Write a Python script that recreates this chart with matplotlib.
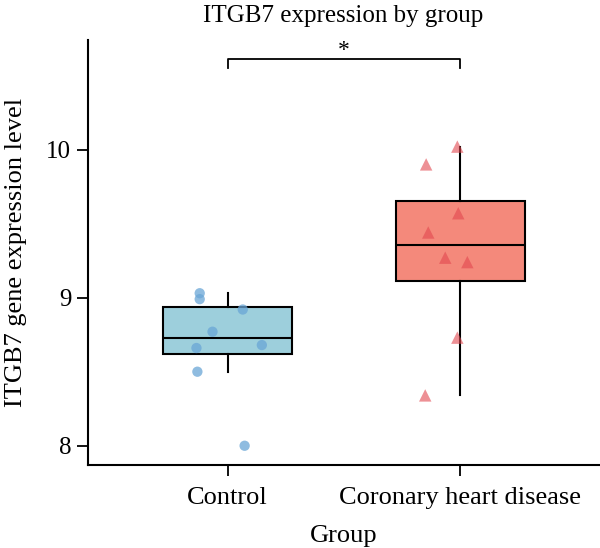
import numpy as np
import matplotlib
matplotlib.use('Agg')
import matplotlib.pyplot as plt

groups = ["Control", "Coronary heart disease"]
control = [9.03, 8.99, 8.92, 8.77, 8.66, 8.68, 8.50, 8.00]
chd = [10.02, 9.90, 9.57, 9.44, 9.27, 9.24, 8.73, 8.34]
control_jitter = [-0.12, -0.12, 0.065, -0.065, -0.134, 0.147, -0.13, 0.073]
chd_jitter = [-0.013, -0.147, -0.009, -0.138, -0.065, 0.03, -0.013, -0.151]

plt.rcParams['font.family'] = ['Liberation Serif', 'DejaVu Serif']

fig = plt.figure(figsize=(6.0, 5.48), dpi=100)
ax = fig.add_axes([88/600, 1-465/548, 512/600, 425/548])

bp = ax.boxplot([control, chd], positions=[0, 1], widths=0.556, showfliers=False,
                patch_artist=True, whis=1.5,
                medianprops=dict(color='black', lw=1.5),
                whiskerprops=dict(color='black', lw=1.5),
                capprops=dict(visible=False),
                boxprops=dict(edgecolor='black', lw=1.5))
for patch, fc in zip(bp['boxes'], ['#9dcfdc', '#f4897b']):
    patch.set_facecolor(fc)

ax.scatter(np.array(control_jitter) + 0, control, s=55, color='#6aa6d6', alpha=0.75,
           edgecolors='none', zorder=3)
ax.scatter(np.array(chd_jitter) + 1, chd, s=80, marker='^', color='#e2474f', alpha=0.6,
           edgecolors='none', zorder=3)

# significance bracket
ax.plot([0, 0, 1, 1], [10.55, 10.61, 10.61, 10.55], color='black', lw=1.3, clip_on=False)
ax.text(0.5, 10.63, '*', ha='center', va='baseline', fontsize=17)

ax.set_xlim(-0.6, 1.6)
ax.set_ylim(7.87, 10.74)
ax.set_yticks([8, 9, 10])
ax.set_xticks([0, 1])
ax.set_xticklabels(groups)
ax.tick_params(width=1.3, length=8, direction='out')
ax.tick_params(axis='x', pad=8, labelsize=19)
ax.tick_params(axis='y', pad=4, labelsize=18)
ax.spines['top'].set_visible(False)
ax.spines['right'].set_visible(False)
ax.spines['left'].set_linewidth(1.5)
ax.spines['bottom'].set_linewidth(1.5)
ax.set_xlabel('Group', fontsize=19)
ax.set_ylabel('ITGB7 gene expression level', fontsize=19)
ax.xaxis.set_label_coords(0.5, -0.141)
ax.yaxis.set_label_coords(-0.119, 0.5)
fig.text(343/600, 1-22/548, 'ITGB7 expression by group', ha='center', va='baseline', fontsize=18)

fig.savefig('out.png', dpi=100)
